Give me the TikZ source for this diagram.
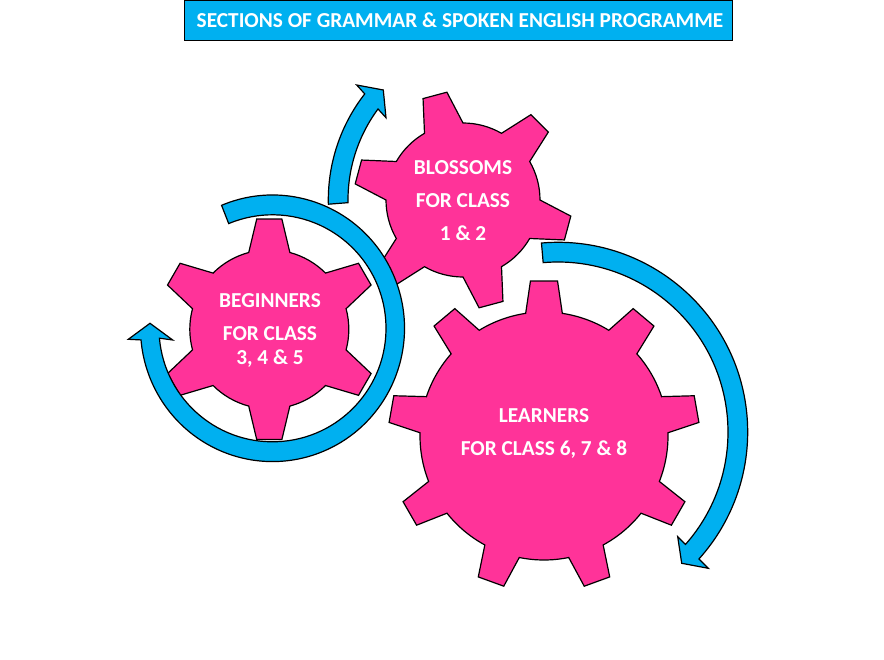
\documentclass[tikz,border=0pt]{standalone}
\usepackage{fontspec}
\setmainfont{Carlito}
\definecolor{gearpink}{HTML}{FF3399}
\definecolor{ringblue}{HTML}{00B0F0}
\tikzset{
  gearbody/.style={fill=gearpink,draw=black,line width=1.2pt,line join=miter},
  ringband/.style={fill=ringblue,draw=black,line width=1.2pt,line join=miter},
  titlebox/.style={fill=ringblue,draw=black,line width=0.7pt},
  gearlabel/.style={text=white,font=\fontsize{21.3}{24}\selectfont\bfseries,align=center,inner sep=0pt},
}
% #1 cx, #2 cy, #3 teeth, #4 first tooth angle, #5 body radius, #6 tip radius, #7 tip half angle, #8 base half angle
\newcommand{\gearshape}[8]{%
  \pgfmathsetmacro{\gstep}{360/#3}%
  \pgfmathtruncatemacro{\glast}{#3-1}%
  \begin{scope}[shift={(#1,#2)}]
    \draw[gearbody] ({#4-#8}:#5pt)
    \foreach \k in {0,...,\glast}{
      -- ({#4+\k*\gstep-#7}:#6pt)
      -- ({#4+\k*\gstep+#7}:#6pt)
      -- ({#4+\k*\gstep+#8}:#5pt)
      arc[start angle={#4+\k*\gstep+#8},end angle={#4+(\k+1)*\gstep-#8},radius=#5pt]
    } -- cycle;
  \end{scope}}
\begin{document}
\begin{tikzpicture}[x=1pt,y=1pt]
\useasboundingbox (0,0) rectangle (884,-660);
% title
\fill[white] (0,0) rectangle (884,-660);
\node[titlebox,minimum width=547.5pt,minimum height=40pt,inner sep=0pt] (title) at (458.3,-20.5) {};
\node[text=white,inner sep=0pt,font=\fontsize{21.3}{24}\selectfont\bfseries] (titletext) at (460,-20) {SECTIONS OF GRAMMAR \& SPOKEN ENGLISH PROGRAMME};
% gears
\gearshape{463}{-200}{6}{105}{77}{109}{6.5}{15}
\gearshape{269.3}{-329.3}{6}{90}{79.5}{111}{6.5}{15}
\gearshape{544}{-436}{9}{90}{124}{155.5}{5}{8.5}
% ring round the first gear
\coordinate (wingAa) at (128.3,-339.3);
\coordinate (tipA) at (150,-323.3);
\coordinate (wingAb) at (172.7,-340);
\begin{scope}[shift={(272.5,-328.3)}]
\draw[ringband] (112.7:132pt and 133.3pt) arc[start angle=112.7,end angle=-175,x radius=132pt,y radius=133.3pt]
  -- (wingAa) -- (tipA) -- (wingAb)
  -- (-175:113.5pt) arc[start angle=-175,end angle=112.7,radius=113.5pt] -- cycle;
\end{scope}
% short arrow
\coordinate (wingBa) at (356.7,-85);
\coordinate (tipB) at (383.3,-90);
\coordinate (wingBb) at (386,-117.7);
\begin{scope}[shift={(501,-200)}]
\draw[ringband] (181.4:172.7pt) arc[start angle=181.4,end angle=142.1,radius=172.7pt]
  -- (wingBa) -- (tipB) -- (wingBb)
  -- (143.5:153pt) arc[start angle=143.5,end angle=181,radius=153pt] -- cycle;
\end{scope}
% long arrow
\coordinate (wingCa) at (708.3,-568.3);
\coordinate (tipC) at (681.7,-563.3);
\coordinate (wingCb) at (677.7,-536.7);
\begin{scope}[shift={(558,-432)}]
\draw[ringband] (95:189.7pt) arc[start angle=95,end angle=-42,radius=189.7pt]
  -- (wingCa) -- (tipC) -- (wingCb)
  -- (-41.4:170pt) arc[start angle=-41.4,end angle=95,radius=170pt] -- cycle;
\end{scope}
% labels
\node[gearlabel] (blossoms) at (463,-200.5) {BLOSSOMS\\[9pt]FOR CLASS\\[9pt]1 \& 2};
\node[gearlabel] (beginners) at (270,-330) {BEGINNERS\\[9pt]FOR CLASS\\[0pt]3, 4 \& 5};
\node[gearlabel] (learners) at (544,-433) {LEARNERS\\[9pt]FOR CLASS 6, 7 \& 8};
\end{tikzpicture}
\end{document}
